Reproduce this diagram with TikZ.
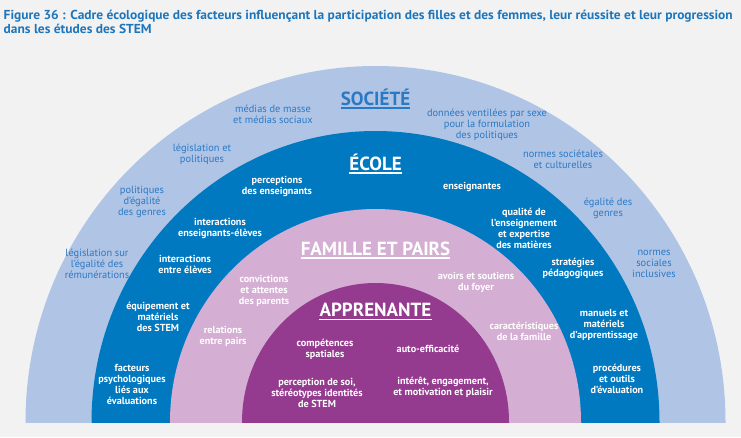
\documentclass[tikz,border=0pt]{standalone}
\usepackage{fontspec}
\setmainfont{PT Sans}
\newfontfamily\labfont{PT Sans}
\newfontfamily\ttlfont{PT Sans}[FakeStretch=1.035]
\newfontfamily\headfont{PT Sans}
\definecolor{bggray}{HTML}{F2F2F2}
\definecolor{socblue}{HTML}{B0C4E6}
\definecolor{ecoblue}{HTML}{0079C1}
\definecolor{fampink}{HTML}{D5AED3}
\definecolor{apppurple}{HTML}{953B8F}
\definecolor{txtblue}{HTML}{2A79C4}
\definecolor{ttlblue}{HTML}{1D76BC}
\tikzset{
  lbl/.style={align=center, inner sep=0pt, font=\labfont\fontsize{10.4}{11}\selectfont},
  olbl/.style={lbl, text=txtblue},
  wlbl/.style={lbl, text=white, font=\labfont\bfseries\fontsize{10.2}{11}\selectfont},
  head/.style={inner sep=0pt, anchor=base, font=\headfont\bfseries\fontsize{19}{19}\selectfont},
  uline/.style={line width=1.5pt},
  ttl/.style={inner sep=0pt, anchor=base west, text=ttlblue, font=\ttlfont\bfseries\fontsize{13}{14}\selectfont}
}
\begin{document}
\begin{tikzpicture}[x=1pt, y=-1pt]
\useasboundingbox (0,0) rectangle (741,437);
\fill[bggray] (0,0) rectangle (741,437);
% title
\node[ttl] (t1) at (3.5,19) {Figure 36 : Cadre écologique des facteurs influençant la participation des filles et des femmes, leur réussite et leur progression};
\node[ttl] (t2) at (3.5,33) {dans les études des STEM};
% rings
\begin{scope}
\clip (0,0) rectangle (741,422);
\fill[socblue] (375.5,422) ellipse [x radius=350, y radius=356];
\fill[ecoblue] (375.5,422) ellipse [x radius=284, y radius=291];
\fill[fampink] (375.5,422) ellipse [x radius=205.5, y radius=213];
\fill[apppurple] (375.5,422) ellipse [x radius=133.5, y radius=139];
\end{scope}
% headings
\node[head, text=txtblue] (soc) at (375.5,105) {SOCIÉTÉ};
\draw[uline, txtblue] ([yshift=-3pt]soc.base west) -- ([yshift=-3pt]soc.base east);
\node[head, text=white] (eco) at (375.5,170) {ÉCOLE};
\draw[uline, white] ([yshift=-3pt]eco.base west) -- ([yshift=-3pt]eco.base east);
\node[head, text=white] (fam) at (375.5,255) {FAMILLE ET PAIRS};
\draw[uline, white] ([yshift=-3pt]fam.base west) -- ([yshift=-3pt]fam.base east);
\node[head, text=white] (app) at (375.5,316.5) {APPRENANTE};
\draw[uline, white] ([yshift=-3pt]app.base west) -- ([yshift=-3pt]app.base east);
% société labels
\node[olbl] (s1) at (273,114) {médias de masse\\et médias sociaux};
\node[olbl] (s2) at (202,154) {législation et\\politiques};
\node[olbl] (s3) at (142,202) {politiques\\d’égalité\\des genres};
\node[olbl] (s4) at (97,264) {législation sur\\l’égalité des\\rémunérations};
\node[olbl] (s5) at (487,125) {données ventilées par sexe\\pour la formulation\\des politiques};
\node[olbl] (s6) at (563,159) {normes sociétales\\et culturelles};
\node[olbl] (s7) at (608,208) {égalité des\\genres};
\node[olbl] (s8) at (654,264) {normes\\sociales\\inclusives};
% école labels
\node[wlbl] (e1) at (277,186.5) {perceptions\\des enseignants};
\node[wlbl] (e2) at (220,228) {interactions\\enseignants-élèves};
\node[wlbl] (e3) at (185,264.5) {interactions\\entre élèves};
\node[wlbl] (e4) at (158,317) {équipement et\\matériels\\des STEM};
\node[wlbl] (e5) at (132,384.5) {facteurs\\psychologiques\\liés aux\\évaluations};
\node[wlbl] (e6) at (472,187) {enseignantes};
\node[wlbl] (e7) at (524,228.5) {qualité de\\l’enseignement\\et expertise\\des matières};
\node[wlbl] (e8) at (573,268.5) {stratégies\\pédagogiques};
\node[wlbl] (e9) at (604,325) {manuels et\\matériels\\d’apprentissage};
\node[wlbl] (e10) at (617,379) {procédures\\et outils\\d’évaluation};
% famille labels
\node[wlbl] (f1) at (264,291) {convictions\\et attentes\\des parents};
\node[wlbl] (f2) at (223,336.5) {relations\\entre pairs};
\node[wlbl] (f3) at (476,282.5) {avoirs et soutiens\\du foyer};
\node[wlbl] (f4) at (524,331.5) {caractéristiques\\de la famille};
% apprenante labels
\node[wlbl] (a1) at (325,349.5) {compétences\\spatiales};
\node[wlbl] (a2) at (317,393) {perception de soi,\\stéréotypes identités\\de STEM};
\node[wlbl] (a3) at (428,349) {auto-efficacité};
\node[wlbl] (a4) at (443,387.5) {intérêt, engagement,\\et motivation et plaisir};
\end{tikzpicture}
\end{document}
